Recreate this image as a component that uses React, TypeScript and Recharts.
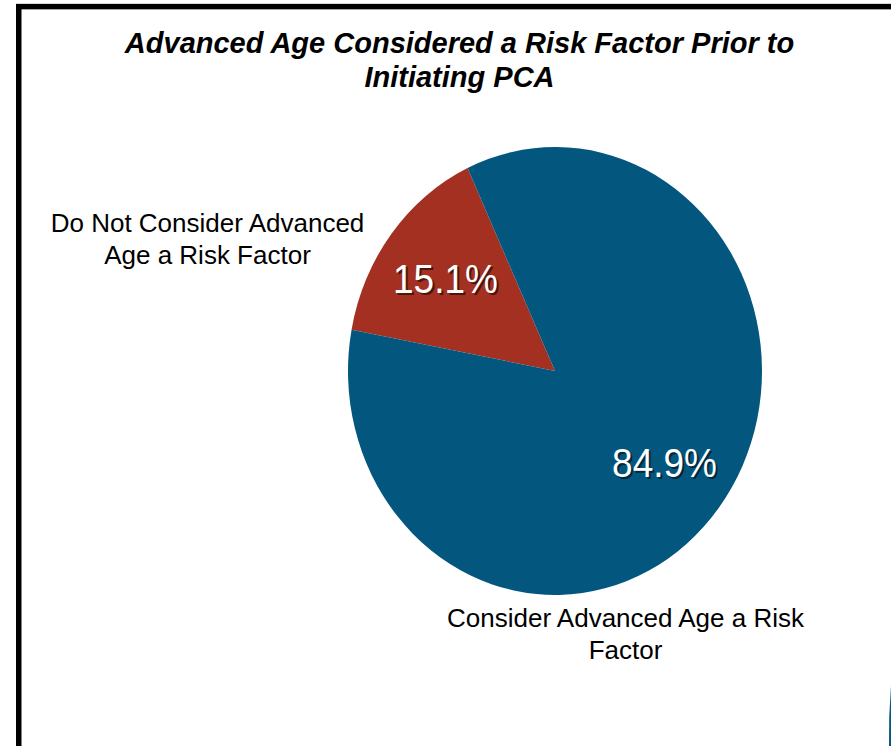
import React from 'react';
import { PieChart, Pie, Cell } from 'recharts';

// Survey shares (percent of respondents)
const categories = [
  'Do Not Consider Advanced Age a Risk Factor',
  'Consider Advanced Age a Risk Factor',
];
const shares = [15.1, 84.9];
const sliceColors = ['#A33020', '#03577F'];

// Text drawn around the pie
const titleLines = ['Advanced Age Considered a Risk Factor Prior to', 'Initiating PCA'];
const categoryLines = [
  ['Do Not Consider Advanced', 'Age a Risk Factor'],
  ['Consider Advanced Age a Risk', 'Factor'],
];

const data = categories.map((name, i) => ({ name, value: shares[i] }));

const W = 891;
const H = 746;
const CX = 555;
const CY = 371;
const STRETCH_Y = 1.082; // the pie is drawn slightly taller than wide
const FONT = '"Liberation Sans", Arial, Helvetica, sans-serif';
const RADIAN = Math.PI / 180;

// Percentage label placed inside each slice, with a soft drop shadow
const renderPct = (props: any) => {
  const { cx, cy, midAngle, outerRadius, value } = props;
  const r = outerRadius * 0.67;
  const x = cx + r * Math.cos(-midAngle * RADIAN);
  const y = cy + r * Math.sin(-midAngle * RADIAN) * STRETCH_Y;
  const txt = `${Number(value).toFixed(1)}%`;
  const common = {
    textAnchor: 'middle' as const,
    dominantBaseline: 'central' as const,
    fontFamily: FONT,
    fontSize: 37,
  };
  return (
    <g transform={`translate(${x},${y}) scale(1,${STRETCH_Y})`}>
      <text {...common} x={2} y={2} fill="rgba(0,0,0,0.55)">
        {txt}
      </text>
      <text {...common} x={0} y={0} fill="#ffffff">
        {txt}
      </text>
    </g>
  );
};

export default function App() {
  return (
    <div style={{ position: 'absolute', left: 0, top: 0, width: W, height: H, overflow: 'hidden', background: '#fff' }}>
      <style>{`g.recharts-pie { transform-origin: ${CX}px ${CY}px; transform: scaleY(${STRETCH_Y}); }`}</style>
      <div style={{ position: 'absolute', left: 0, top: 0 }}>
        <PieChart width={W} height={H} margin={{ top: 0, right: 0, bottom: 0, left: 0 }}>
          <Pie
            data={data}
            dataKey="value"
            nameKey="name"
            cx={CX}
            cy={CY}
            outerRadius={207}
            startAngle={115}
            endAngle={475}
            stroke="none"
            label={renderPct}
            labelLine={false}
            isAnimationActive={false}
          >
            {data.map((d, i) => (
              <Cell key={d.name} fill={sliceColors[i]} />
            ))}
          </Pie>
        </PieChart>
      </div>
      <svg
        width={W}
        height={H}
        style={{ position: 'absolute', left: 0, top: 0, pointerEvents: 'none' }}
      >
        <rect x={18.75} y={6.6} width={1000} height={1000} fill="none" stroke="#000" strokeWidth={5.5} />
        <path d="M891 686 Q888.5 716 889 746 L891 746 Z" fill="#03577F" />
        <g fontFamily={FONT} fontWeight="bold" fontStyle="italic" fontSize={29} fill="#000" textAnchor="middle">
          <text x={459.5} y={53.3}>{titleLines[0]}</text>
          <text x={459.5} y={86.5}>{titleLines[1]}</text>
        </g>
        <g fontFamily={FONT} fontSize={26} fill="#000" textAnchor="middle">
          <text x={207.5} y={231.7}>{categoryLines[0][0]}</text>
          <text x={207.5} y={263.5}>{categoryLines[0][1]}</text>
          <text x={625.5} y={626.5}>{categoryLines[1][0]}</text>
          <text x={625.5} y={658.5}>{categoryLines[1][1]}</text>
        </g>
      </svg>
    </div>
  );
}
